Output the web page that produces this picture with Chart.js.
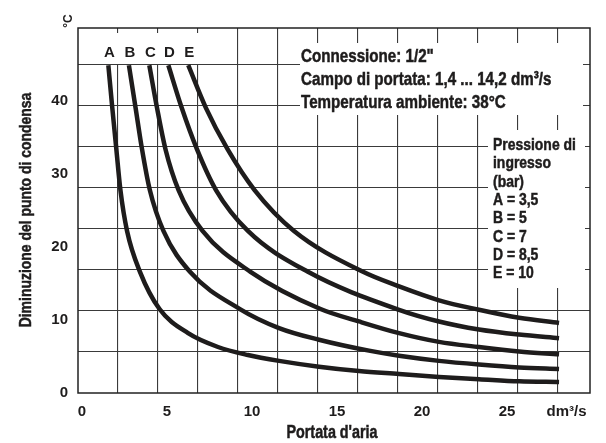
<!DOCTYPE html>
<html>
<head>
<meta charset="utf-8">
<title>Diminuzione del punto di condensa</title>
<script src="https://cdn.jsdelivr.net/npm/chart.js@4.4.1/dist/chart.umd.min.js"></script>
<style>
  body { margin: 0; background: #fff; }
  canvas { display: block; }
</style>
</head>
<body>
<canvas id="graphCanvas" width="606" height="443"></canvas>
<script>
// portata d'aria (dm3/s) e diminuzione del punto di condensa (°C) per ogni pressione
var flowA = [1.55, 1.78, 2.02, 2.26, 2.65, 3.41, 4.56, 6.24, 8.0, 9.76, 11.59, 13.94, 16.29, 18.65, 21.0, 23.35, 25.71, 28.06];
var dewA  = [44.9, 39.1, 33.4, 27.8, 22.2, 16.6, 11.5, 8.2, 6.3, 5.2, 4.4, 3.6, 3.0, 2.6, 2.2, 1.9, 1.6, 1.5];

var flowB = [2.76, 3.15, 3.53, 3.99, 4.79, 6.35, 9.29, 11.59, 13.94, 16.88, 18.65, 21.0, 23.35, 25.71, 28.06];
var dewB  = [44.9, 39.1, 33.4, 27.8, 22.2, 16.6, 11.5, 8.9, 7.3, 5.8, 5.1, 4.4, 3.9, 3.5, 3.3];

var flowC = [3.96, 4.41, 4.91, 5.68, 7.09, 9.91, 14.03, 16.29, 18.65, 21.0, 23.35, 25.71, 28.06];
var dewC  = [44.9, 39.1, 33.4, 27.8, 22.2, 16.6, 11.5, 9.8, 8.2, 7.0, 6.3, 5.7, 5.3];

var flowD = [5.08, 5.86, 6.76, 7.88, 9.76, 13.29, 18.65, 21.0, 23.35, 25.71, 28.06];
var dewD  = [44.9, 39.1, 33.4, 27.8, 22.2, 16.6, 11.4, 9.8, 8.7, 8.0, 7.5];

var flowE = [6.25, 7.28, 8.56, 10.15, 12.47, 16.53, 18.65, 21.0, 23.35, 25.71, 28.06];
var dewE  = [44.9, 39.1, 33.4, 27.8, 22.2, 16.6, 14.6, 12.7, 11.4, 10.3, 9.6];

var curveNames = ['A', 'B', 'C', 'D', 'E'];
var inletPressure = ['3,5', '5', '7', '8,5', '10'];
var flows = [flowA, flowB, flowC, flowD, flowE];
var dews = [dewA, dewB, dewC, dewD, dewE];

var xTickValues = [0, 5, 10, 15, 20, 25, 28.5];
var yTickValues = [0, 10, 20, 30, 40];
var unitTick = 28.5;

var infoLines = [
    'Connessione: 1/2"',
    'Campo di portata: 1,4 ... 14,2 dm³/s',
    'Temperatura ambiente: 38°C'
];

var ink = '#1e1c1c';
var tickFont = { family: '"Liberation Sans", Arial, sans-serif', size: 15, weight: 'bold' };

// testo "condensato": Liberation Sans bold stretto in orizzontale, con un filo di contorno
function narrowText(ctx, text, x, y, size, align, rotate) {
    ctx.save();
    ctx.translate(x, y);
    if (rotate) ctx.rotate(-Math.PI / 2);
    ctx.scale(0.82, 1);
    ctx.font = 'bold ' + size + 'px "Liberation Sans", Arial, sans-serif';
    ctx.fillStyle = ink;
    ctx.strokeStyle = ink;
    ctx.lineWidth = 0.5;
    ctx.textAlign = align || 'left';
    ctx.textBaseline = 'alphabetic';
    ctx.fillText(text, 0, 0);
    ctx.strokeText(text, 0, 0);
    ctx.restore();
}

var annotations = {
    id: 'annotations',
    beforeDraw: function (chart) {
        var ctx = chart.ctx;
        ctx.save();
        ctx.fillStyle = '#fff';
        ctx.fillRect(0, 0, chart.width, chart.height);
        ctx.restore();
    },
    beforeDatasetsDraw: function (chart) {
        var ctx = chart.ctx;
        var area = chart.chartArea;
        var xs = chart.scales.x;

        // riquadri bianchi sopra la griglia
        ctx.save();
        ctx.fillStyle = '#fff';
        ctx.fillRect(area.left + 1, 33, 152, 31);
        ctx.fillRect(300, 43, 283, 72);
        ctx.fillRect(488, 130, 97, 158);

        // cornice
        ctx.strokeStyle = '#222';
        ctx.lineWidth = 1.5;
        ctx.strokeRect(area.left, area.top, area.right - area.left, area.bottom - area.top);

        // lettere sopra l'inizio di ogni curva
        ctx.font = 'bold 15px "Liberation Sans", Arial, sans-serif';
        ctx.fillStyle = ink;
        ctx.textAlign = 'center';
        ctx.textBaseline = 'alphabetic';
        for (var i = 0; i < curveNames.length; i++) {
            ctx.fillText(curveNames[i], xs.getPixelForValue(flows[i][0]) + 1, 57);
        }
        ctx.restore();

        var base = [62, 85, 107.5];
        for (var j = 0; j < infoLines.length; j++) {
            narrowText(ctx, infoLines[j], 301, base[j], 18.5);
        }

        var legend = ['Pressione di', 'ingresso', '(bar)'];
        for (var k = 0; k < curveNames.length; k++) {
            legend.push(curveNames[k] + ' = ' + inletPressure[k]);
        }
        for (var n = 0; n < legend.length; n++) {
            narrowText(ctx, legend[n], 493, 150 + n * 18.3, 17);
        }
    },
    afterDraw: function (chart) {
        var ctx = chart.ctx;
        narrowText(ctx, 'Diminuzione del punto di condensa', 31, 210, 17, 'center', true);
        narrowText(ctx, "Portata d'aria", 332, 438, 17.5, 'center');

        ctx.save();
        ctx.translate(72, 21);
        ctx.rotate(-Math.PI / 2);
        ctx.font = 'bold 12px "Liberation Sans", Arial, sans-serif';
        ctx.fillStyle = ink;
        ctx.textAlign = 'center';
        ctx.textBaseline = 'alphabetic';
        ctx.fillText('°C', 0, 0);
        ctx.restore();
    }
};

var datasets = [];
for (var i = 0; i < curveNames.length; i++) {
    var points = [];
    for (var j = 0; j < flows[i].length; j++) {
        points.push({ x: flows[i][j], y: dews[i][j] });
    }
    datasets.push({
        label: curveNames[i],
        data: points,
        borderColor: ink,
        borderWidth: 4.5,
        borderCapStyle: 'butt',
        cubicInterpolationMode: 'monotone',
        pointRadius: 0,
        fill: false
    });
}

var gridLine = { color: '#3a3a3a', lineWidth: 1.1, drawTicks: false };

var graph = new Chart(document.getElementById('graphCanvas'), {
    type: 'line',
    data: { datasets: datasets },
    options: {
        responsive: false,
        animation: false,
        layout: { padding: { top: 28, right: 16, left: 0, bottom: 0 } },
        plugins: {
            legend: { display: false },
            tooltip: { enabled: false }
        },
        scales: {
            x: {
                type: 'linear',
                min: -0.235,
                max: 29.88,
                grid: { display: false, drawTicks: false },
                border: { display: false },
                afterBuildTicks: function (scale) {
                    scale.ticks = xTickValues.map(function (v) { return { value: v }; });
                },
                afterFit: function (scale) { scale.height = 50; },
                ticks: {
                    padding: 10,
                    color: ink,
                    font: tickFont,
                    autoSkip: false,
                    maxRotation: 0,
                    callback: function (v) { return v === unitTick ? 'dm³/s' : v; }
                }
            },
            y: {
                type: 'linear',
                min: 0,
                max: 50,
                grid: { display: false, drawTicks: false },
                border: { display: false },
                afterBuildTicks: function (scale) {
                    scale.ticks = yTickValues.map(function (v) { return { value: v }; });
                },
                afterFit: function (scale) { scale.width = 78; },
                ticks: { padding: 10, color: ink, font: tickFont }
            },
            gx: {
                type: 'linear',
                position: 'top',
                min: 0,
                max: 12.8,
                ticks: { display: false },
                grid: gridLine,
                border: { display: false },
                afterBuildTicks: function (scale) {
                    var t = [];
                    for (var k = 1; k <= 12; k++) t.push({ value: k });
                    scale.ticks = t;
                },
                afterFit: function (scale) { scale.height = 0; }
            },
            gy: {
                type: 'linear',
                position: 'right',
                min: 0,
                max: 8.9,
                ticks: { display: false },
                grid: gridLine,
                border: { display: false },
                afterBuildTicks: function (scale) {
                    var t = [];
                    for (var k = 1; k <= 8; k++) t.push({ value: k });
                    scale.ticks = t;
                },
                afterFit: function (scale) { scale.width = 0; }
            }
        }
    },
    plugins: [annotations]
});
</script>
</body>
</html>
